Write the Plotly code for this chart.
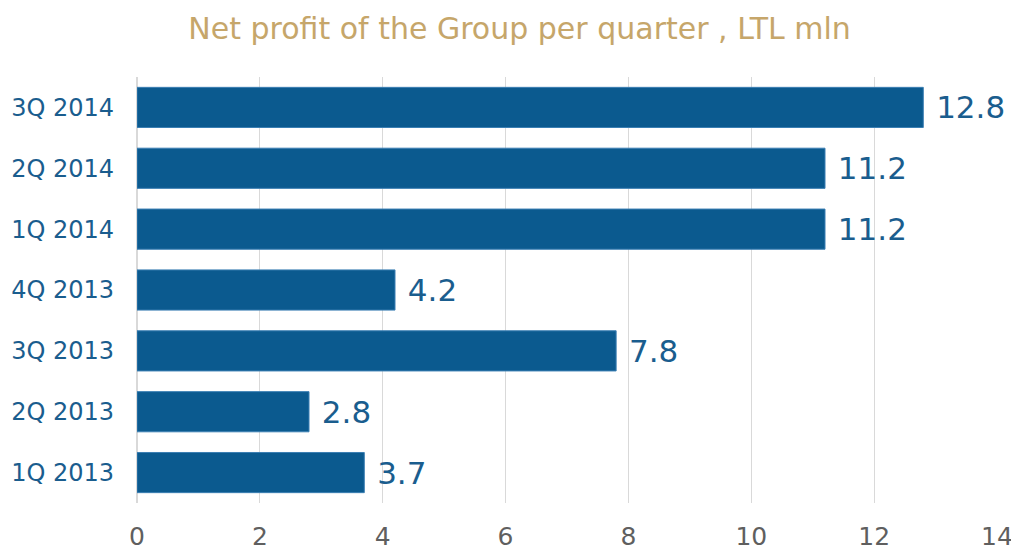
import plotly.graph_objects as go

categories = ["1Q 2013", "2Q 2013", "3Q 2013", "4Q 2013", "1Q 2014", "2Q 2014", "3Q 2014"]
values = [3.7, 2.8, 7.8, 4.2, 11.2, 11.2, 12.8]
labels = ["3.7", "2.8", "7.8", "4.2", "11.2", "11.2", "12.8"]
x_ticks = [0, 2, 4, 6, 8, 10, 12, 14]

fig = go.Figure(go.Bar(
    y=categories, x=values, orientation="h",
    marker=dict(color="#0b5a8f", line=dict(color="#3b7fb3", width=1)),
    width=0.66,
    text=["\u00a0" + t for t in labels], textposition="outside", cliponaxis=False,
    constraintext="none",
    textfont=dict(family="DejaVu Sans", size=31, color="#1a5d8e"),
))

fig.update_layout(
    width=1011, height=543,
    paper_bgcolor="white", plot_bgcolor="white",
    margin=dict(l=129, r=22, t=69, b=48, autoexpand=False),
    title=dict(text="Net profit of the Group per quarter , LTL mln",
               x=0.506, xanchor="center", xref="container", y=0.963, yanchor="middle",
               font=dict(family="DejaVu Sans", size=30, color="#c6a66a")),
    font=dict(family="DejaVu Sans"),
    showlegend=False,
)
fig.update_xaxes(range=[0, 14], tickvals=x_ticks, showgrid=True, gridcolor="#d9d9d9",
                 gridwidth=1, zeroline=True, zerolinecolor="#d9d9d9", showline=False,
                 tickfont=dict(size=25, color="#5f5f5f"), ticks="", ticklabelstandoff=16,
                 automargin=False)
fig.update_yaxes(categoryorder="array", categoryarray=categories, showgrid=False,
                 tickfont=dict(size=24, color="#1a5d8e"), ticks="", ticklabelstandoff=22,
                 automargin=False)

fig.write_html("out.html")
